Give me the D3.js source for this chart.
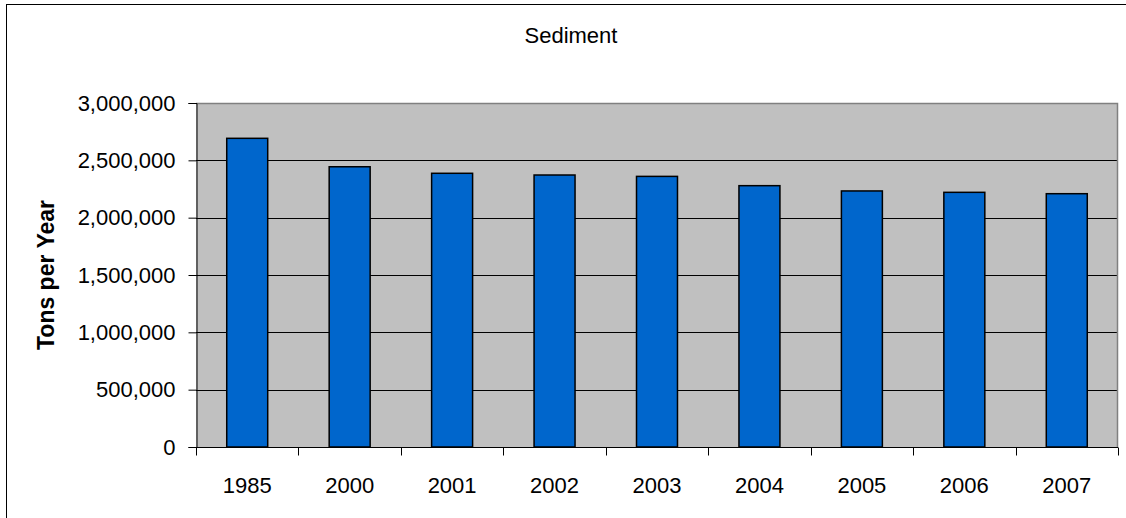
<!DOCTYPE html>
<html>
<head>
<meta charset="utf-8">
<script src="https://cdn.jsdelivr.net/npm/d3@7"></script>
<style>
  html, body { margin: 0; padding: 0; background: #fff; }
  svg { display: block; font-family: "Liberation Sans", Arial, sans-serif; }
</style>
</head>
<body>
<svg id="chart" width="1126" height="518"></svg>
<script>
// Annual sediment load, tons per year
const years = ["1985", "2000", "2001", "2002", "2003", "2004", "2005", "2006", "2007"];
const tons = [2692000, 2444000, 2387000, 2372000, 2360000, 2279000, 2233000, 2221000, 2209000];
const yTicks = [0, 500000, 1000000, 1500000, 2000000, 2500000, 3000000];
const chartTitle = "Sediment";
const yTitle = "Tons per Year";

const svg = d3.select("#chart");
const plot = { left: 196, right: 1118, top: 103, bottom: 447 };

// outer chart frame (extends past the right/bottom edges of the page)
svg.append("rect")
  .attr("x", 6.5).attr("y", 4.5)
  .attr("width", 1128).attr("height", 530)
  .attr("fill", "#fff").attr("stroke", "#000").attr("stroke-width", 1);

const xCat = d3.scaleBand().domain(years).range([plot.left, plot.right]);
const y = d3.scaleLinear().domain([0, 3000000]).range([plot.bottom, plot.top]);

// plot area background
svg.append("rect")
  .attr("x", plot.left).attr("y", plot.top)
  .attr("width", plot.right - plot.left).attr("height", plot.bottom - plot.top)
  .attr("fill", "#c0c0c0");

// gridlines
svg.append("g")
  .selectAll("line")
  .data(yTicks.filter(d => d > 0))
  .join("line")
  .attr("x1", plot.left).attr("x2", plot.right)
  .attr("y1", d => Math.round(y(d)) + 0.5).attr("y2", d => Math.round(y(d)) + 0.5)
  .attr("stroke", "#000").attr("stroke-width", 1);

// plot area border top/right
svg.append("path")
  .attr("d", `M${plot.left},${plot.top + 0.5}H${plot.right - 0.5}V${plot.bottom}`)
  .attr("fill", "none").attr("stroke", "#808080").attr("stroke-width", 1.5);

// bars: 40% of each category width, centred
svg.append("g")
  .selectAll("rect")
  .data(years.map((yr, i) => ({ yr, v: tons[i] })))
  .join("rect")
  .attr("x", d => xCat(d.yr) + xCat.bandwidth() * 0.3)
  .attr("width", xCat.bandwidth() * 0.4)
  .attr("y", d => y(d.v))
  .attr("height", d => y(0) - y(d.v))
  .attr("fill", "#0066cc")
  .attr("stroke", "#000")
  .attr("stroke-width", 1.5);

// y axis
const yAxis = d3.axisLeft(y)
  .tickValues(yTicks)
  .tickSize(8)
  .tickPadding(13)
  .tickFormat(d3.format(","));
const gy = svg.append("g")
  .attr("transform", `translate(${plot.left + 0.5},0)`)
  .call(yAxis);
gy.select(".domain").attr("stroke", "#000");
gy.selectAll(".tick line").attr("stroke", "#000");
gy.selectAll(".tick text")
  .attr("font-size", 22).attr("fill", "#000")
  .attr("font-family", "'Liberation Sans', Arial, sans-serif");

// x axis: ticks on category boundaries, labels at category centres
const gx = svg.append("g").attr("transform", `translate(0,${plot.bottom + 0.5})`);
gx.append("line")
  .attr("x1", plot.left).attr("x2", plot.right)
  .attr("stroke", "#000");
const bounds = years.map(d => xCat(d)).concat([plot.right]);
gx.selectAll("line.tick")
  .data(bounds)
  .join("line")
  .attr("class", "tick")
  .attr("x1", d => Math.round(d) + 0.5).attr("x2", d => Math.round(d) + 0.5)
  .attr("y1", 0).attr("y2", 8)
  .attr("stroke", "#000");
gx.selectAll("text")
  .data(years)
  .join("text")
  .attr("x", d => xCat(d) + xCat.bandwidth() / 2)
  .attr("y", 45)
  .attr("text-anchor", "middle")
  .attr("font-size", 22)
  .attr("fill", "#000")
  .text(d => d);

// titles
svg.append("text")
  .attr("x", 571).attr("y", 43)
  .attr("text-anchor", "middle")
  .attr("font-size", 22)
  .text(chartTitle);

svg.append("text")
  .attr("transform", `translate(54,${(plot.top + plot.bottom) / 2}) rotate(-90)`)
  .attr("text-anchor", "middle")
  .attr("font-size", 23)
  .attr("font-weight", "bold")
  .text(yTitle);
</script>
</body>
</html>
